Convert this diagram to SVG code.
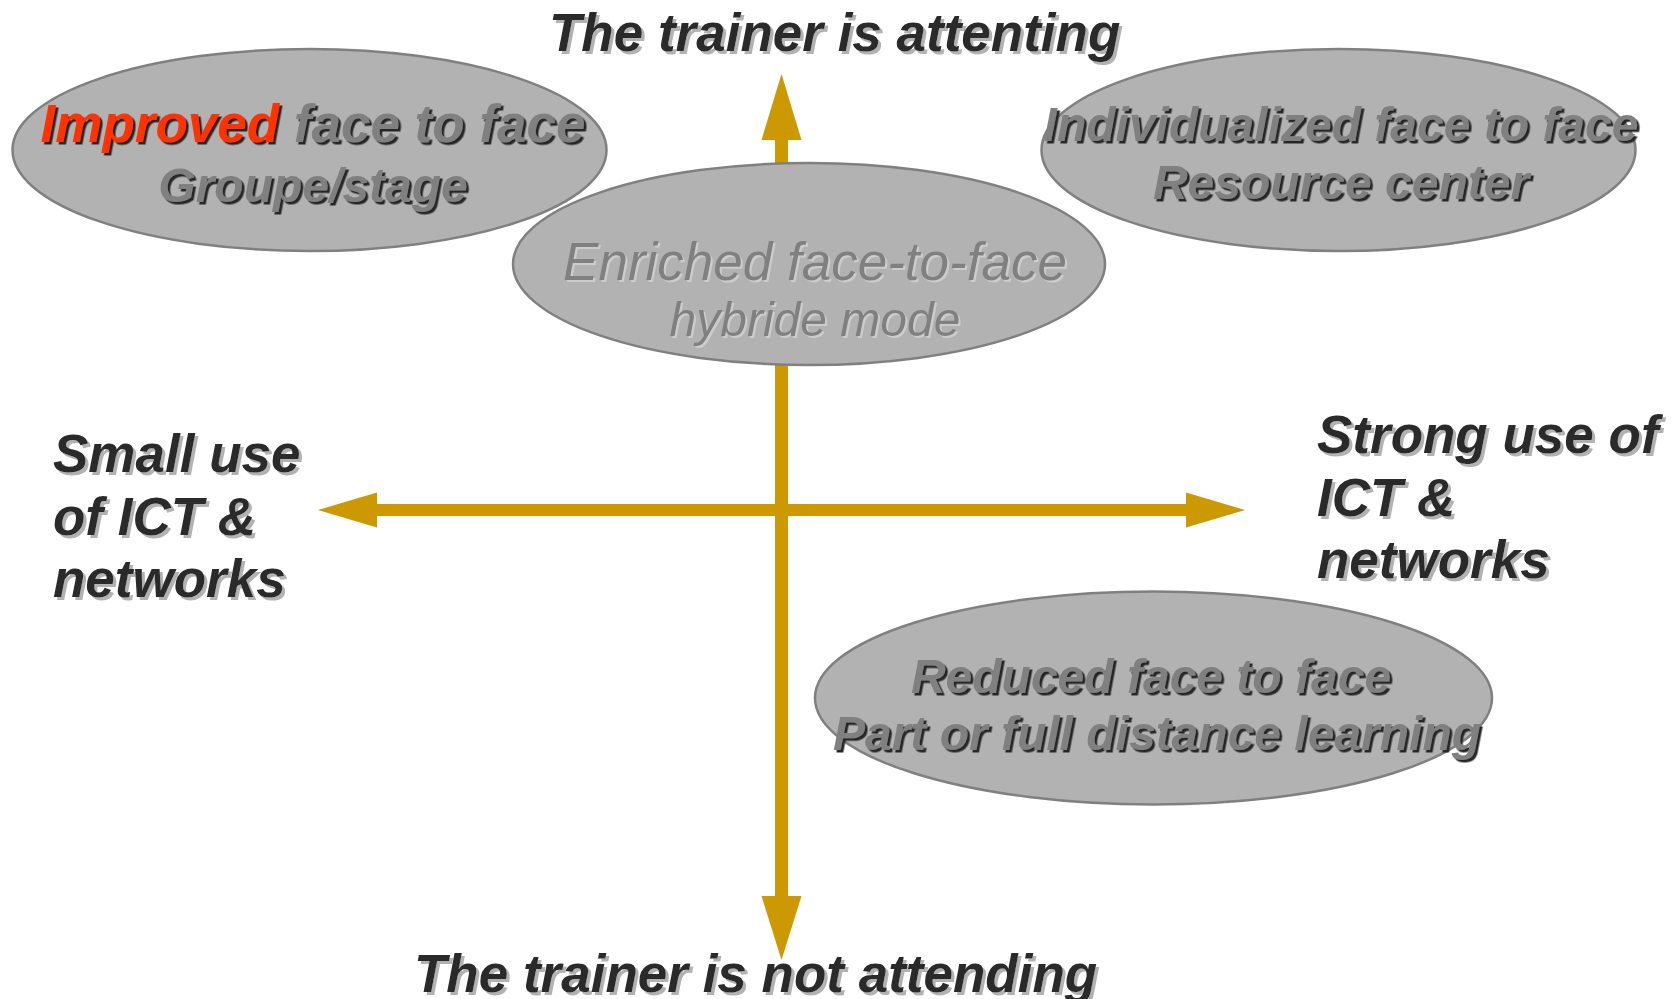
<svg xmlns="http://www.w3.org/2000/svg" width="1677" height="999" viewBox="0 0 1677 999">
  <defs>
    <filter id="shLight" x="-5%" y="-20%" width="110%" height="140%">
      <feDropShadow dx="3" dy="3" stdDeviation="0.6" flood-color="#b2b2b2" flood-opacity="1"/>
    </filter>
    <filter id="shDark" x="-5%" y="-20%" width="110%" height="140%">
      <feDropShadow dx="2.5" dy="2.5" stdDeviation="0.3" flood-color="#262626" flood-opacity="1"/>
    </filter>
    <filter id="shPale" x="-5%" y="-20%" width="110%" height="140%">
      <feDropShadow dx="2" dy="2" stdDeviation="0.5" flood-color="#cccccc" flood-opacity="1"/>
    </filter>
  </defs>
  <style>
    .bg { fill: #ffffff; }
    .axis { stroke: #cc9900; fill: none; }
    .head { fill: #cc9900; stroke: none; }
    .ell { fill: #b2b2b2; stroke: #808080; stroke-width: 2.5; }
    .lbl { font-family: "Liberation Sans", Arial, sans-serif; font-weight: bold; font-style: italic; font-size: 53px; fill: #292929; filter: url(#shLight); }
    .nt { font-family: "Liberation Sans", Arial, sans-serif; font-weight: bold; font-style: italic; font-size: 48px; fill: #808080; filter: url(#shDark); text-anchor: middle; }
    .nt.big { font-size: 53px; }
    .red { fill: #ff3300; }
    .mid { font-family: "Liberation Sans", Arial, sans-serif; font-style: italic; fill: #808080; filter: url(#shPale); text-anchor: middle; }
  </style>
  <rect class="bg" x="0" y="0" width="1677" height="999"/>

  <g id="connectors">
    <line class="axis" x1="781.5" y1="138" x2="781.5" y2="898" stroke-width="13"/>
    <line class="axis" x1="375" y1="510" x2="1188" y2="510" stroke-width="12"/>
    <polygon class="head" points="781.5,74 801.5,140 761.5,140"/>
    <polygon class="head" points="781.5,960 801.5,896 761.5,896"/>
    <polygon class="head" points="318,510 377,492.5 377,527.5"/>
    <polygon class="head" points="1245,510 1186,492.5 1186,527.5"/>
  </g>

  <g id="label-top">
    <text class="lbl" x="549" y="51">The trainer is attenting</text>
  </g>
  <g id="label-bottom">
    <text class="lbl" x="414" y="992">The trainer is not attending</text>
  </g>
  <g id="label-left">
    <text class="lbl" x="53" y="472">Small use</text>
    <text class="lbl" x="53" y="535">of ICT &amp;</text>
    <text class="lbl" x="53" y="597">networks</text>
  </g>
  <g id="label-right">
    <text class="lbl" x="1317" y="453">Strong use of</text>
    <text class="lbl" x="1317" y="516">ICT &amp;</text>
    <text class="lbl" x="1317" y="578">networks</text>
  </g>

  <g id="node-improved">
    <ellipse class="ell" cx="309.5" cy="150" rx="297" ry="101"/>
    <text class="nt big" x="313" y="142"><tspan class="red">Improved</tspan> face to face</text>
    <text class="nt" x="313" y="202">Groupe/stage</text>
  </g>

  <g id="node-individualized">
    <ellipse class="ell" cx="1338.5" cy="150" rx="297" ry="101"/>
    <text class="nt" x="1341" y="141">Individualized face to face</text>
    <text class="nt" x="1341" y="199">Resource center</text>
  </g>

  <g id="node-enriched">
    <ellipse class="ell" cx="809" cy="264" rx="296" ry="101"/>
    <text class="mid" x="815" y="280" font-size="53">Enriched face-to-face</text>
    <text class="mid" x="815" y="336" font-size="48">hybride mode</text>
  </g>

  <g id="node-reduced">
    <ellipse class="ell" cx="1153.5" cy="698" rx="338.5" ry="106.5"/>
    <text class="nt" x="1151" y="693">Reduced face to face</text>
    <text class="nt" x="1157" y="750">Part or full distance learning</text>
  </g>
</svg>
